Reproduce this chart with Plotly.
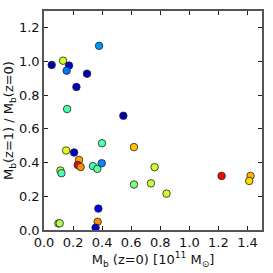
import plotly.graph_objects as go

# Baryonic mass at z=0 [1e11 Msun]
mb_z0 = [0.053, 0.131, 0.172, 0.156, 0.379, 0.296, 0.223, 0.159, 0.546,
         0.152, 0.207, 0.399, 0.241, 0.232, 0.252, 0.337, 0.367, 0.397,
         0.113, 0.120, 0.374, 0.369, 0.355, 0.099, 0.108,
         0.619, 0.761, 0.619, 0.736, 0.843, 1.222, 1.421, 1.412]
# Ratio Mb(z=1)/Mb(z=0)
ratio = [0.980, 1.005, 0.976, 0.946, 1.093, 0.928, 0.849, 0.718, 0.678,
         0.472, 0.460, 0.515, 0.416, 0.386, 0.374, 0.379, 0.363, 0.396,
         0.353, 0.337, 0.127, 0.049, 0.014, 0.039, 0.040,
         0.492, 0.373, 0.270, 0.277, 0.216, 0.321, 0.321, 0.291]
# colour variable (jet colormap, 0..1)
cval = [0.03, 0.60, 0.07, 0.24, 0.27, 0.05, 0.06, 0.44, 0.05,
        0.62, 0.06, 0.44, 0.74, 0.90, 0.76, 0.43, 0.46, 0.26,
        0.58, 0.44, 0.10, 0.76, 0.06, 0.58, 0.56,
        0.70, 0.60, 0.50, 0.59, 0.60, 0.90, 0.72, 0.68]


def jet(x):
    def clip(v):
        return max(0.0, min(1.0, v))
    if x < 0.35:
        r = 0.0
    elif x < 0.66:
        r = (x - 0.35) / 0.31
    elif x < 0.89:
        r = 1.0
    else:
        r = 1.0 - 0.5 * (x - 0.89) / 0.11
    if x < 0.125:
        g = 0.0
    elif x < 0.375:
        g = (x - 0.125) / 0.25
    elif x < 0.64:
        g = 1.0
    elif x < 0.91:
        g = 1.0 - (x - 0.64) / 0.27
    else:
        g = 0.0
    if x < 0.11:
        b = 0.5 + 0.5 * x / 0.11
    elif x < 0.34:
        b = 1.0
    elif x < 0.65:
        b = 1.0 - (x - 0.34) / 0.31
    else:
        b = 0.0
    return "rgb(%d,%d,%d)" % (round(255 * clip(r)), round(255 * clip(g)), round(255 * clip(b)))


n = 40
jet_scale = [[i / n, jet(i / n)] for i in range(n + 1)]

fig = go.Figure(go.Scatter(
    x=mb_z0, y=ratio, mode="markers",
    marker=dict(size=7.5, color=cval, colorscale=jet_scale, cmin=0, cmax=1,
                line=dict(color="#222", width=0.8)),
    showlegend=False,
))

axis_common = dict(
    showgrid=False, zeroline=False, showline=True, linecolor="#555", linewidth=1.5,
    mirror="ticks", ticks="inside", ticklen=4, tickwidth=1, tickcolor="#222",
    tickfont=dict(family="DejaVu Sans", size=13, color="#111"),
    automargin=False,
)

fig.update_layout(
    width=273, height=273,
    margin=dict(l=44, r=11, t=11, b=43, autoexpand=False),
    paper_bgcolor="white", plot_bgcolor="white",
    xaxis=dict(range=[0, 1.5], tickvals=[0, 0.2, 0.4, 0.6, 0.8, 1.0, 1.2, 1.4],
               ticktext=["0.0", "0.2", "0.4", "0.6", "0.8", "1.0", "1.2", "1.4"],
               title=dict(text="M<sub>b</sub> (z=0) [10<sup>11</sup> M<sub>⊙</sub>]",
                          font=dict(family="DejaVu Sans", size=13, color="#111"), standoff=1),
               **axis_common),
    yaxis=dict(range=[0, 1.3], tickvals=[0, 0.2, 0.4, 0.6, 0.8, 1.0, 1.2],
               ticktext=["0.0", "0.2", "0.4", "0.6", "0.8", "1.0", "1.2"],
               title=dict(text="M<sub>b</sub>(z=1) / M<sub>b</sub>(z=0)",
                          font=dict(family="DejaVu Sans", size=13, color="#111"), standoff=2),
               **axis_common),
)

# remove the default page margin so the figure fills the window exactly
fig.write_html("out.html", config={"displayModeBar": False},
               post_script="document.body.style.margin='0';")
